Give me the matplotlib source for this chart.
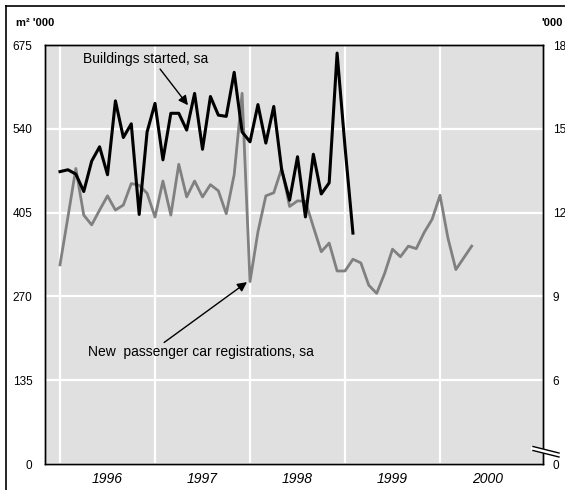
import numpy as np
import matplotlib.pyplot as plt
from matplotlib.lines import Line2D

plt.rcParams['font.family'] = ['Liberation Sans', 'DejaVu Sans']

# monthly data from Jan 1996
buildings = [471, 474, 467, 439, 488, 511, 466, 585, 526, 548, 402, 535,
             581, 490, 565, 565, 538, 597, 507, 592, 562, 560, 631, 535,
             519, 579, 517, 576, 474, 425, 495, 398, 499, 435, 453, 662,
             511, 372]  # m2 '000

cars = [10.13, 11.84, 13.58, 11.91, 11.56, 12.09, 12.60, 12.09, 12.27, 13.04, 12.98, 12.69,
        11.84, 13.13, 11.91, 13.73, 12.56, 13.13, 12.56, 13.00, 12.78, 11.96, 13.36, 16.27,
        9.53, 11.31, 12.60, 12.71, 13.58, 12.22, 12.42, 12.40, 11.49, 10.60, 10.91, 9.91,
        9.91, 10.33, 10.20, 9.40, 9.11, 9.82, 10.69, 10.42, 10.80, 10.71, 11.29, 11.76,
        12.62, 11.09, 9.96, 10.38, 10.80]  # '000

years = [1996, 1997, 1998, 1999, 2000]
left_ticks = [0, 135, 270, 405, 540, 675]
right_ticks = [3, 6, 9, 12, 15, 18]
right_labels = ['0', '6', '9', '12', '15', '18']

xb = 1996 + np.arange(len(buildings)) / 12
xc = 1996 + np.arange(len(cars)) / 12

fig = plt.figure(figsize=(5.65, 4.9), dpi=100)
ax = fig.add_axes([45 / 565, 26 / 490, 498 / 565, 419 / 490])
ax2 = ax.twinx()

# background axes holds the grey fill, the grid and the car line
ax.set_zorder(ax2.get_zorder() + 1)
ax.patch.set_visible(False)
ax2.patch.set_visible(True)
ax2.patch.set_facecolor('#e0e0e0')

ax.set_xlim(1995.842, 2001.084)
ax.set_ylim(0, 675)
ax2.set_ylim(3, 18)

ax.set_xticks(years)
ax.set_xticks([y + 0.5 for y in years], minor=True)
ax.set_xticklabels([])
ax.set_xticklabels([str(y) for y in years], minor=True, fontsize=10, style='italic')
ax.tick_params(axis='x', which='both', length=0, pad=6)

ax.set_yticks(left_ticks)
ax.set_yticklabels([str(t) for t in left_ticks], fontsize=8.5)
ax.tick_params(axis='y', length=0, pad=9)

ax2.set_yticks(right_ticks)
ax2.set_yticklabels(right_labels, fontsize=8.5)
ax2.tick_params(axis='y', length=0, pad=7)

ax2.grid(True, axis='y', color='white', linewidth=1.6)
for y in years:
    ax2.axvline(y, color='white', linewidth=1.6, zorder=1)

for a in (ax, ax2):
    for s in a.spines.values():
        s.set_linewidth(1.0)
        s.set_color('black')

ax2.plot(xc, cars, color='#808080', linewidth=2.0, zorder=3)
ax.plot(xb, buildings, color='black', linewidth=2.2)

ax.annotate('Buildings started, sa', xy=(1997.347, 578), xytext=(1996.24, 652),
            fontsize=10, va='center', ha='left',
            arrowprops=dict(arrowstyle='-|>', color='black', lw=1,
                            mutation_scale=14, shrinkA=0, shrinkB=0,
                            relpos=(0.6, 0.0)))
ax.annotate('New  passenger car registrations, sa', xy=(1997.968, 293),
            xytext=(1996.295, 180), fontsize=10, va='center', ha='left',
            arrowprops=dict(arrowstyle='-|>', color='black', lw=1,
                            mutation_scale=14, shrinkA=0, shrinkB=0,
                            relpos=(0.32, 1.0)))

fig.text(16 / 565, 1 - 23 / 490, "m² '000", fontsize=8, fontweight='bold',
         va='center', ha='left')
fig.text(563 / 565, 1 - 23 / 490, "'000", fontsize=8, fontweight='bold',
         va='center', ha='right')

# outer frame (cut at right and bottom)
fig.add_artist(Line2D([6 / 565, 6 / 565], [0, 1 - 6 / 490], color='black', lw=1.2))
fig.add_artist(Line2D([6 / 565, 1], [1 - 6 / 490, 1 - 6 / 490], color='black', lw=1.2))

# axis break marks on the right axis
bx = [533 / 565, 559 / 565]
fig.add_artist(Line2D(bx, [1 - 448.5 / 490, 1 - 455 / 490], color='white', lw=3))
fig.add_artist(Line2D(bx, [1 - 446.5 / 490, 1 - 453 / 490], color='black', lw=1))
fig.add_artist(Line2D(bx, [1 - 450.5 / 490, 1 - 457 / 490], color='black', lw=1))

fig.savefig('out.png', dpi=100)
